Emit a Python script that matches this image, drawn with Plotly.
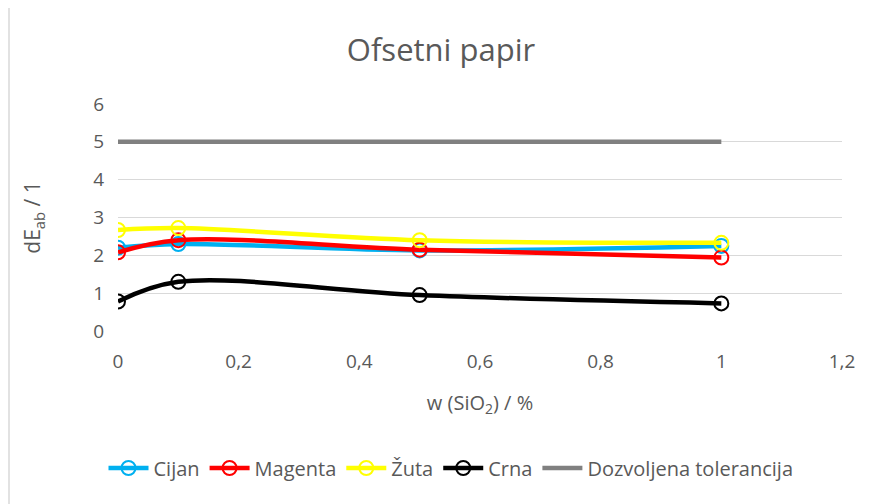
import plotly.graph_objects as go

x_vals = [0, 0.1, 0.5, 1]
cijan = [2.2, 2.3, 2.13, 2.25]
magenta = [2.08, 2.4, 2.15, 1.94]
zuta = [2.67, 2.72, 2.4, 2.33]
crna = [0.78, 1.3, 0.95, 0.73]
tol_x = [0, 1]
tol_y = [5, 5]

x_ticks = [0, 0.2, 0.4, 0.6, 0.8, 1.0, 1.2]
x_ticktext = ["0", "0,2", "0,4", "0,6", "0,8", "1", "1,2"]
y_ticks = [0, 1, 2, 3, 4, 5, 6]

FONT = "Open Sans"
GRAY = "#595959"
OFF = 8  # page body margin

fig = go.Figure()
series = [("Cijan", cijan, "#00B0F0"), ("Magenta", magenta, "#FF0000"),
          ("Žuta", zuta, "#FFFF00"), ("Crna", crna, "#000000")]
for name, ys, col in series:
    fig.add_trace(go.Scatter(
        x=x_vals, y=ys, name=name, mode="lines+markers",
        line=dict(color=col, width=4.5, shape="spline", smoothing=1),
        marker=dict(symbol="circle-open", size=14, color=col, line=dict(width=2)),
    ))
fig.add_trace(go.Scatter(x=tol_x, y=tol_y, name="Dozvoljena tolerancija", mode="lines",
                         line=dict(color="#808080", width=4.5)))

FW, FH = 874 - OFF, 504 - OFF
# plot area in reference pixel coords: x 118..842, y 104..331
L, R, T, B = 118 - OFF, 842 - OFF, 104 - OFF, 331 - OFF
W, H = R - L, B - T
def px(v): return (v - OFF - L) / W
def py(v): return (B - (v - OFF)) / H

fig.add_shape(type="rect", xref="paper", yref="paper",
              x0=px(9), x1=px(890), y0=py(520), y1=py(6),
              line=dict(color="#d9d9d9", width=1.5), fillcolor="rgba(0,0,0,0)", layer="below")

fig.update_layout(
    width=FW, height=FH,
    margin=dict(l=L, r=FW - R, t=T, b=FH - B, autoexpand=False),
    paper_bgcolor="white", plot_bgcolor="white",
    font=dict(family=FONT, color=GRAY, size=19),
    title=dict(text="Ofsetni papir", x=0.5, xanchor="center", y=1 - (50 - OFF) / FH, yanchor="middle",
               font=dict(size=31, color=GRAY, family=FONT)),
    xaxis=dict(range=[0, 1.2], tickvals=x_ticks, ticktext=x_ticktext, showgrid=False,
               zeroline=False, showline=False, ticks="", ticklabelstandoff=17,
               title=dict(text="w (SiO<sub>2</sub>) / %", font=dict(size=20, color=GRAY), standoff=22),
               tickfont=dict(size=19, color=GRAY)),
    yaxis=dict(range=[0, 6], tickvals=y_ticks, showgrid=True, gridcolor="#d9d9d9", gridwidth=1,
               zeroline=False, showline=False, ticks="", ticklabelstandoff=13,
               title=dict(text="dE<sub>ab</sub> / 1", font=dict(size=21, color=GRAY), standoff=46),
               tickfont=dict(size=19, color=GRAY)),
    legend=dict(orientation="h", x=px(451), xanchor="center",
                y=py(468), yanchor="middle", font=dict(size=20, color=GRAY),
                itemwidth=40, tracegroupgap=0),
    showlegend=True,
)

fig.write_html("out.html")
